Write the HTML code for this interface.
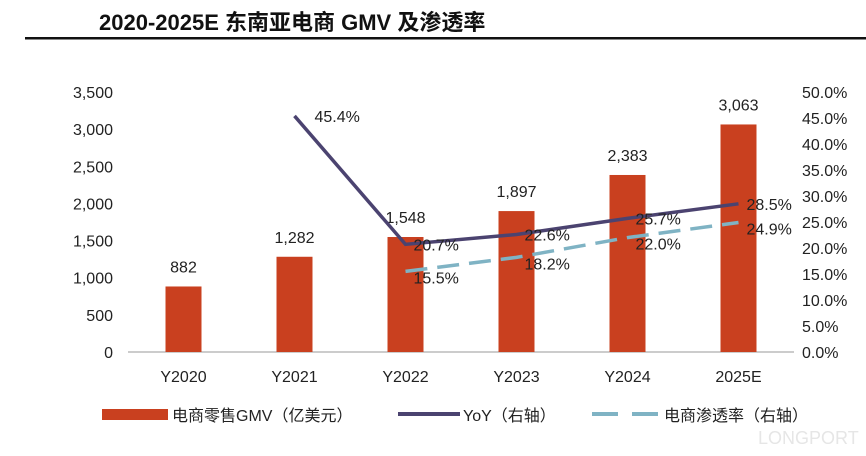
<!DOCTYPE html>
<html><head><meta charset="utf-8"><style>
body{margin:0;background:#fff;width:866px;height:456px;overflow:hidden;font-family:"Liberation Sans","Noto Sans CJK SC",sans-serif}
</style></head><body>
<svg id="c" width="866" height="456" style="position:absolute;left:0;top:0">
<text x="99" y="30" font-size="22" font-weight="bold" fill="#111" font-family="Liberation Sans,Noto Sans CJK SC,sans-serif">2020-2025E 东南亚电商 GMV 及渗透率</text>
<rect x="25" y="37" width="841" height="2.5" fill="#111"/>
<g id="g"></g>
</svg>
<script>
const categories=["Y2020","Y2021","Y2022","Y2023","Y2024","2025E"];
const gmv=[882,1282,1548,1897,2383,3063];
const yoy=[null,45.4,20.7,22.6,25.7,28.5];
const pen=[null,null,15.5,18.2,22.0,24.9];
const leftTicks=[0,500,1000,1500,2000,2500,3000,3500];
const rightTicks=[0,5,10,15,20,25,30,35,40,45,50];
const NS="http://www.w3.org/2000/svg",g=document.getElementById('g');
const y0=352,h=260,x0=128,x1=794;
const yl=v=>y0-v/3500*h, yr=v=>y0-v/50*h;
const step=(x1-x0)/categories.length, xc=i=>x0+step*(i+0.5);
function el(t,a,txt){const e=document.createElementNS(NS,t);for(const k in a)e.setAttribute(k,a[k]);if(txt!=null)e.textContent=txt;g.appendChild(e);return e;}
let e=el('line',{x1:x0,x2:x1,y1:y0,y2:y0,stroke:'#bbb','stroke-width':1.5});

leftTicks.forEach(v=>{const t=el('text',{x:113,y:yl(v)+6,'text-anchor':'end','font-size':16,fill:'#222'},v.toLocaleString('en-US'));
});
rightTicks.forEach(v=>{const t=el('text',{x:802,y:yr(v)+6,'font-size':16,fill:'#222'},v.toFixed(1)+'%');
});
categories.forEach((c,i)=>{
 const t=el('text',{x:xc(i),y:382,'text-anchor':'middle','font-size':16,fill:'#222'},c);
 
 const b=el('rect',{x:xc(i)-18,y:yl(gmv[i]),width:36,height:y0-yl(gmv[i]),fill:'#c9401f'});
 
 const l=el('text',{x:xc(i),y:yl(gmv[i])-14,'text-anchor':'middle','font-size':16,fill:'#222'},gmv[i].toLocaleString('en-US'));
 
});
function line(arr,attrs,name,dy){
 const pts=[];arr.forEach((v,i)=>{if(v!=null)pts.push([xc(i),yr(v),v]);});
 const p=el('polyline',Object.assign({points:pts.map(q=>q[0]+','+q[1]).join(' '),fill:'none'},attrs));
 
 pts.forEach((q,k)=>{const t=el('text',{x:q[0]+(k==0&&name=='yoy-line'?20:8),y:q[1]+dy,'font-size':16,fill:'#222'},q[2].toFixed(1)+'%');
 });
}
line(yoy,{stroke:'#4b4370','stroke-width':3.5},'yoy-line',6);
line(pen,{stroke:'#7fb3c4','stroke-width':3.5,'stroke-dasharray':'22,10'},'penetration-line',12);
let r=el('rect',{x:102,y:409,width:66,height:11,fill:'#c9401f'});
let t=el('text',{x:172,y:421,'font-size':16,fill:'#222'},'电商零售GMV（亿美元）');
r=el('line',{x1:398,x2:460,y1:414,y2:414,stroke:'#4b4370','stroke-width':4});
t=el('text',{x:463,y:421,'font-size':16,fill:'#222'},'YoY（右轴）');
r=el('line',{x1:592,x2:658,y1:414,y2:414,stroke:'#7fb3c4','stroke-width':4,'stroke-dasharray':'26,14'});
t=el('text',{x:664,y:421,'font-size':16,fill:'#222'},'电商渗透率（右轴）');
t=el('text',{x:758,y:444,'font-size':18,fill:'#e6e6e6'},'LONGPORT');
</script>
</body></html>
